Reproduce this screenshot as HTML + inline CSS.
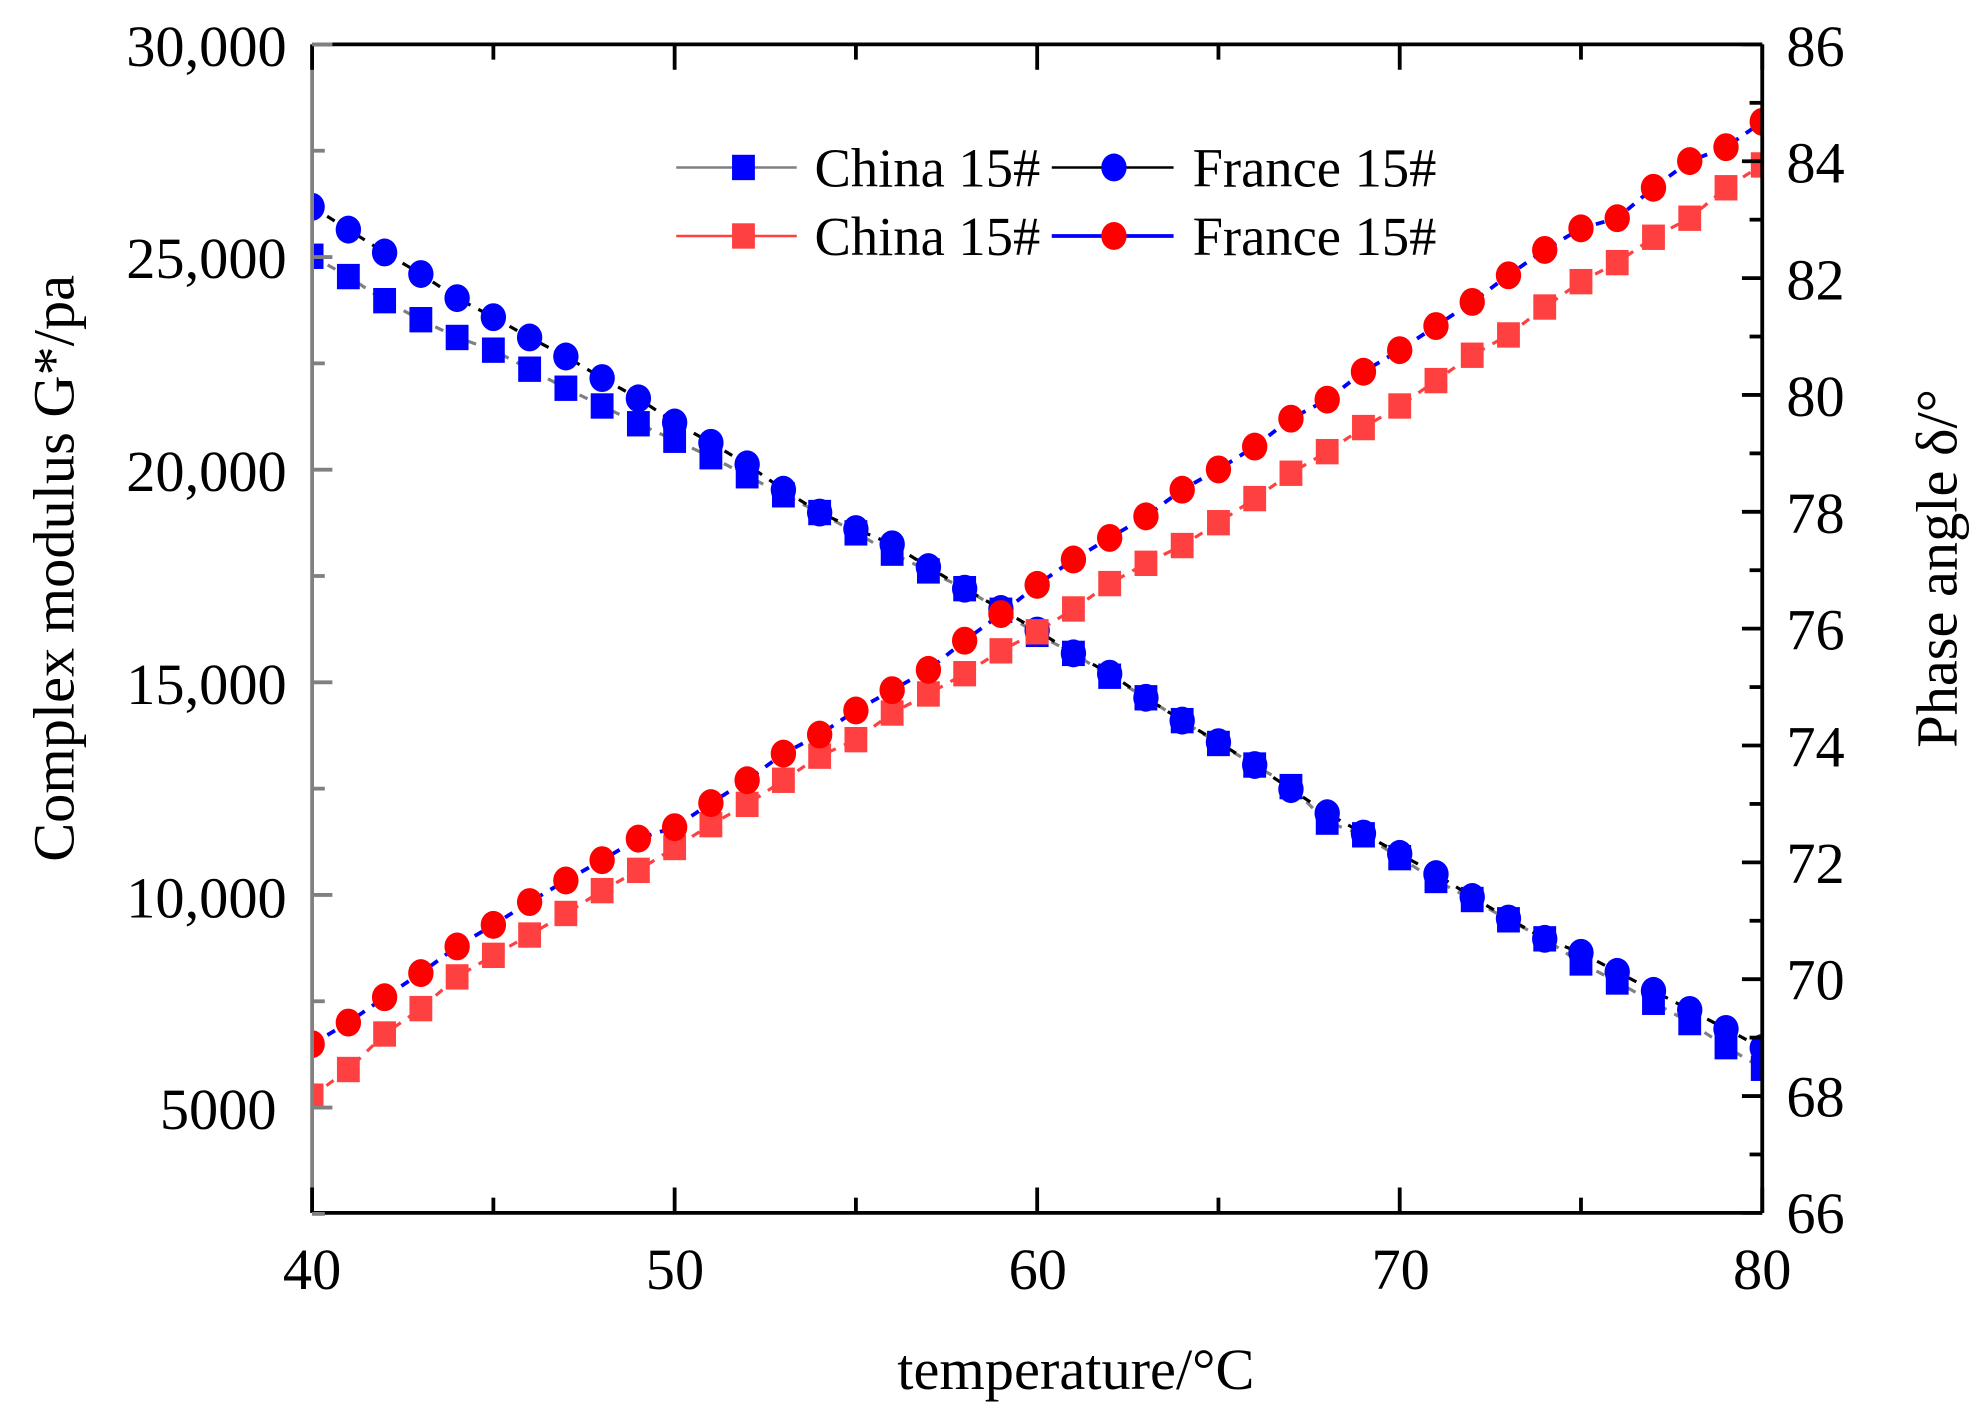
<!DOCTYPE html>
<html><head><meta charset="utf-8"><style>html,body{margin:0;padding:0;background:#fff}svg{display:block}</style></head>
<body>
<svg id="s" width="1983" height="1407" viewBox="0 0 1563 1109" preserveAspectRatio="none" xmlns="http://www.w3.org/2000/svg" font-family="'Liberation Serif', serif">
<defs><clipPath id="c"><rect x="246" y="35" width="1143" height="921"/></clipPath></defs>
<rect width="1563" height="1109" fill="#fff"/>
<g id="data" clip-path="url(#c)"></g>
<line x1="246" y1="35" x2="1389" y2="35" stroke="#000" stroke-width="3"/>
<line x1="246" y1="956" x2="1389" y2="956" stroke="#000" stroke-width="3"/>
<line x1="1389" y1="35" x2="1389" y2="956" stroke="#000" stroke-width="3"/>
<line x1="246" y1="35" x2="246" y2="956" stroke="#808080" stroke-width="3"/>
<g id="ticks"></g>
<g font-size="46" fill="#000">
<g text-anchor="end">
<text x="226" y="52">30,000</text><text x="226" y="219">25,000</text><text x="226" y="387">20,000</text>
<text x="226" y="555">15,000</text><text x="226" y="723">10,000</text><text x="218" y="890">5000</text>
</g>
<g text-anchor="start">
<text x="1408" y="52">86</text><text x="1408" y="144">84</text><text x="1408" y="236">82</text><text x="1408" y="328">80</text>
<text x="1408" y="420">78</text><text x="1408" y="512">76</text><text x="1408" y="604">74</text><text x="1408" y="696">72</text>
<text x="1408" y="788">70</text><text x="1408" y="880">68</text><text x="1408" y="972">66</text>
</g>
<g text-anchor="middle">
<text x="246" y="1016">40</text><text x="532" y="1016">50</text><text x="818" y="1016">60</text><text x="1104" y="1016">70</text><text x="1389" y="1016">80</text>
<text x="848" y="1095">temperature/°C</text>
</g>
<text transform="translate(58,448) rotate(-90)" text-anchor="middle">Complex modulus G*/pa</text>
<text transform="translate(1542,448) rotate(-90)" text-anchor="middle">Phase angle δ/°</text>
</g>
<g font-size="43">
<line x1="533" y1="132" x2="628" y2="132" stroke="#808080" stroke-width="2"/><rect x="577" y="122" width="18" height="20" fill="#0000ff"/>
<text x="642" y="147">China 15#</text>
<line x1="829" y1="132" x2="925" y2="132" stroke="#000" stroke-width="2"/><ellipse cx="878" cy="132" rx="10" ry="11" fill="#0000ff"/>
<text x="940" y="147">France 15#</text>
<line x1="533" y1="186" x2="628" y2="186" stroke="#ff4040" stroke-width="2"/><rect x="577" y="176" width="18" height="20" fill="#ff4040"/>
<text x="642" y="201">China 15#</text>
<line x1="829" y1="186" x2="925" y2="186" stroke="#0000ff" stroke-width="3"/><ellipse cx="878" cy="186" rx="10" ry="11" fill="#ff0000"/>
<text x="940" y="201">France 15#</text>
</g>
<script>
(function(){
var NS="http://www.w3.org/2000/svg";
function X(t){return 246+(t-40)*28.575;}
var bs=[202,218,237,252,266,276,291,306,320,334,347,360,375,390,404,420,436,450,464,481,500,515,533,550,568,586,603,620,648,658,676,694,709,725,740,759,774,790,806,825,842];
var bc=[163,181,199,216,235,250,266,281,298,314,333,349,366,386,404,417,429,447,464,480,497,515,531,550,568,585,603,622,641,657,673,689,707,724,740,751,766,781,796,811,826];
var rc=[823,806,786,767,746,729,711,694,678,661,652,633,615,594,579,560,544,528,505,484,461,441,424,407,386,370,352,330,315,293,276,257,238,217,197,180,172,148,127,116,96];
var rs=[864,843,815,795,770,753,737,720,702,686,668,650,634,615,596,583,562,547,531,513,498,480,460,444,430,412,393,373,356,337,320,300,280,264,242,222,207,187,172,148,130];
var g=document.getElementById("data");
function el(n,a){var e=document.createElementNS(NS,n);for(var k in a)e.setAttribute(k,a[k]);g.appendChild(e);return e;}
function line(arr,col,w){var p=arr.map(function(y,i){return X(40+i)+","+y;}).join(" ");
el("polyline",{points:p,fill:"none",stroke:col,"stroke-width":w,"stroke-dasharray":"7,7"});}
function sq(arr,col){arr.forEach(function(y,i){el("rect",{x:X(40+i)-9,y:y-10,width:18,height:20,fill:col});});}
function ci(arr,col){arr.forEach(function(y,i){el("ellipse",{cx:X(40+i),cy:y,rx:10,ry:11,fill:col});});}
line(bs,"#808080",2.5);line(bc,"#000",2.5);line(rs,"#ff4040",2.5);line(rc,"#0000ff",3);
sq(bs,"#0000ff");ci(bc,"#0000ff");sq(rs,"#ff4040");ci(rc,"#ff0000");
var t=document.getElementById("ticks");
function tl(x1,y1,x2,y2,c){var e=document.createElementNS(NS,"line");e.setAttribute("x1",x1);e.setAttribute("y1",y1);e.setAttribute("x2",x2);e.setAttribute("y2",y2);e.setAttribute("stroke",c);e.setAttribute("stroke-width",3);t.appendChild(e);}
for(var v=40;v<=80;v+=5){var x=X(v),L=(v%10==0)?20:12;tl(x,956,x,956-L,"#000");tl(x,35,x,35+L,"#000");}
for(var k=0;k<=11;k++){var y=35+k*83.8;var L2=(k%2==0)?16:10;tl(246,y,246+L2,y,"#808080");}
for(var a=66;a<=86;a++){var y2=956-(a-66)*46.05;var L3=(a%2==0)?16:10;tl(1389,y2,1389-L3,y2,"#000");}
})();
</script>
</svg>
</body></html>
